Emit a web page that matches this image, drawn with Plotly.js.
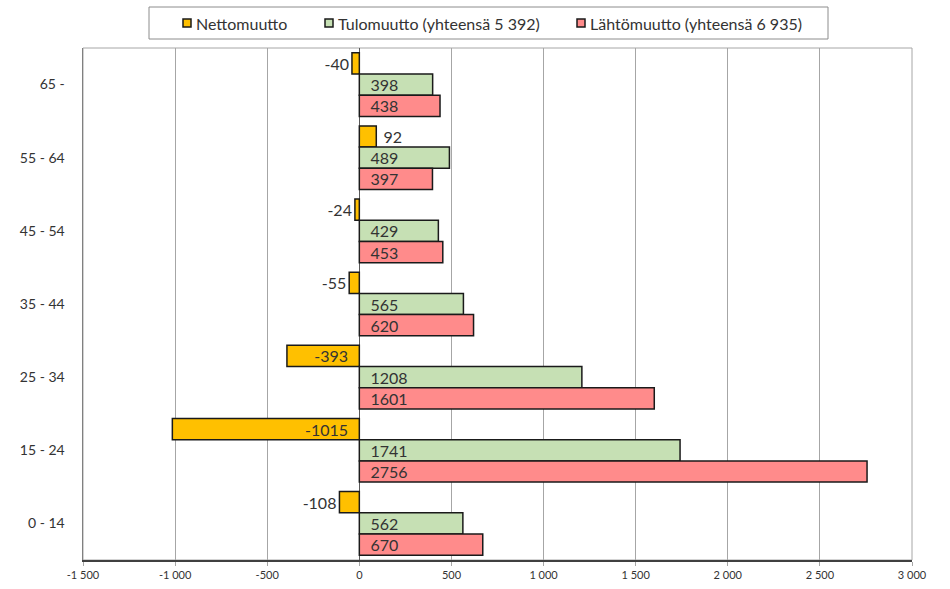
<!DOCTYPE html>
<html><head><meta charset="utf-8">
<script src="https://cdn.plot.ly/plotly-3.0.1.min.js"></script>
<style>body{margin:0;background:#fff}#chart{width:950px;height:589px}</style>
</head><body><div id="chart"></div>
<script>
const categories = ['65 -', '55 - 64', '45 - 54', '35 - 44', '25 - 34', '15 - 24', '0 - 14'];
const netto = [-40, 92, -24, -55, -393, -1015, -108];
const tulo = [398, 489, 429, 565, 1208, 1741, 562];
const lahto = [438, 397, 453, 620, 1601, 2756, 670];
const seriesNames = ['Nettomuutto', 'Tulomuutto (yhteensä 5 392)', 'Lähtömuutto (yhteensä 6 935)'];
const seriesColors = ['#FFC000', '#C6E0B4', '#FF8B8B'];
const xTickVals = [-1500, -1000, -500, 0, 500, 1000, 1500, 2000, 2500, 3000];
const xTickText = ['-1 500', '-1 000', '-500', '0', '500', '1 000', '1 500', '2 000', '2 500', '3 000'];

const W = 950, H = 589, ML = 83, MR = 38, MT = 48, MB = 29;
const PW = W - ML - MR, PH = H - MT - MB;
const px = p => (p - ML) / PW;
const py = p => (H - MB - p) / PH;

const font = 'Lato, "Open Sans", sans-serif';
const txtColor = '#333333';
const NB = '\u00a0\u00a0';
const nettoPos = netto.map(v => v < -300 ? 'inside' : 'outside');
const nettoText = netto.map((v, i) => nettoPos[i] === 'inside' ? String(v) + NB : (v > 0 ? '\u00a0' + v : String(v)));
const common = {type: 'bar', orientation: 'h', y: categories, textfont: {family: font, size: 16, color: txtColor},
  insidetextanchor: 'start', cliponaxis: false, hoverinfo: 'skip', showlegend: false, constraintext: 'none'};
const traces = [
  Object.assign({}, common, {x: netto, name: seriesNames[0], text: nettoText, textposition: nettoPos,
    marker: {color: seriesColors[0], line: {color: '#1a1a1a', width: 1.5}}}),
  Object.assign({}, common, {x: tulo, name: seriesNames[1], text: tulo.map(v => NB + v), textposition: 'inside',
    marker: {color: seriesColors[1], line: {color: '#1a1a1a', width: 1.5}}}),
  Object.assign({}, common, {x: lahto, name: seriesNames[2], text: lahto.map(v => NB + v), textposition: 'inside',
    marker: {color: seriesColors[2], line: {color: '#1a1a1a', width: 1.5}}})
];

// manual legend (box, small square keys, labels)
const shapes = [
  {type: 'rect', xref: 'paper', yref: 'paper', x0: 0, x1: 1, y0: 0, y1: 1, line: {color: '#a6a6a6', width: 1}, layer: 'below'},
  {type: 'rect', xref: 'paper', yref: 'paper', x0: px(149), x1: px(828), y0: py(39), y1: py(7), line: {color: '#8c8c8c', width: 1}, fillcolor: '#fff'}
];
const annotations = [];
const keyX = [183, 325, 577];
seriesNames.forEach((n, i) => {
  shapes.push({type: 'rect', xref: 'paper', yref: 'paper', x0: px(keyX[i]), x1: px(keyX[i] + 8), y0: py(27), y1: py(19),
    line: {color: '#1a1a1a', width: 1.5}, fillcolor: seriesColors[i]});
  annotations.push({xref: 'paper', yref: 'paper', x: px(keyX[i] + 11), y: py(23), xanchor: 'left', yanchor: 'middle',
    text: n, showarrow: false, font: {family: font, size: 16, color: txtColor}});
});

const layout = {
  width: W, height: H,
  margin: {l: ML, r: MR, t: MT, b: MB, autoexpand: false},
  barmode: 'group', bargap: 0.13, bargroupgap: 0,
  paper_bgcolor: '#fff', plot_bgcolor: '#fff',
  font: {family: font, size: 13, color: txtColor},
  showlegend: false,
  uniformtext: {mode: 'show', minsize: 16},
  xaxis: {range: [-1500, 3000], tickvals: xTickVals, ticktext: xTickText, showgrid: true, gridcolor: '#a6a6a6', gridwidth: 1,
    zeroline: true, zerolinecolor: '#595959', zerolinewidth: 1.5, showline: true, linecolor: '#404040', linewidth: 1.5,
    ticks: 'outside', ticklen: 4, tickcolor: '#a6a6a6', tickfont: {family: font, size: 11, color: txtColor}, fixedrange: true},
  yaxis: {type: 'category', autorange: 'reversed', showgrid: false, zeroline: false, showline: true, linecolor: '#808080', linewidth: 1.5,
    ticks: '', ticklabelstandoff: 14, tickfont: {family: font, size: 14, color: txtColor}, fixedrange: true},
  shapes: shapes, annotations: annotations
};
Plotly.newPlot('chart', traces, layout, {displayModeBar: false, staticPlot: true});
</script></body></html>
